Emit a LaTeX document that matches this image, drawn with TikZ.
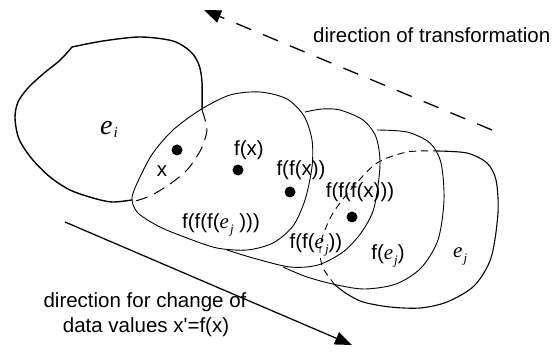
\documentclass[tikz,border=0pt]{standalone}
\usepackage{fontspec}
\setsansfont[Ligatures=TeXOff]{Liberation Sans}
\newfontfamily\tmsfont{Liberation Serif}
\usetikzlibrary{arrows.meta}

\newcommand{\ej}{{\tmsfont\itshape\fontsize{21}{21}\selectfont e\kern1pt\raisebox{-5pt}{\fontsize{13}{13}\selectfont j}}}
\newcommand{\ei}{{\tmsfont\itshape\fontsize{28}{28}\selectfont e\kern1pt\raisebox{-3pt}{\fontsize{15}{15}\selectfont i}}}

\begin{document}
\begin{tikzpicture}[
  x=1pt, y=-1pt,
  lbl/.style={font=\sffamily\fontsize{20.5}{24}\selectfont, inner sep=0pt, anchor=base},
  blob/.style={line width=0.9pt},
  outer/.style={line width=1.4pt},
  jline/.style={line width=1.1pt},
  hidden/.style={line width=1pt, dash pattern=on 12pt off 7pt},
  hiddenj/.style={line width=0.9pt, dash pattern=on 7pt off 5pt},
  dot/.style={circle, fill=black, inner sep=0pt, minimum size=11pt},
  dirarrow/.style={line width=1.3pt, -{Triangle[length=17pt,width=13pt]}}
]
\useasboundingbox (0,0) rectangle (560,352);

% --- e_i ---
\draw[outer] plot[smooth] coordinates {(202,110) (202,82) (199,65) (191,52) (173,41) (140,37) (103,41) (72,47)}
  -- plot[smooth] coordinates {(72,47) (66,54) (58,62) (43,74) (28,88) (18,102) (15,118) (19,139) (32,159) (50,177) (70,190) (93,198) (112,202) (132,200)};
\draw[hidden] plot[smooth] coordinates {(202,110) (207,128) (204,142) (199,153) (187,170) (170,184) (150,196) (132,202)};

% --- e_j and its images ---
\draw[jline] plot[smooth] coordinates {(437,151) (467,153) (487,163) (496,180) (498,213) (491,258) (474,286) (447,302) (420,308) (390,307) (363,302) (347,294) (335,285)};
\draw[hiddenj] plot[smooth] coordinates {(335,285) (323,268) (320,253) (322,238) (333,213) (353,187) (377,163) (407,152) (437,151)};
\draw[blob] plot[smooth] coordinates {(377,130) (407,132) (430,143) (441,163) (444,200) (438,240) (421,268) (396,284) (365,289) (337,285) (307,277) (283,267)};
\draw[blob] plot[smooth] coordinates {(305,112) (322,109) (340,110) (363,120) (376,137) (380,165) (374,208) (361,233) (343,252) (318,265) (290,267) (253,258) (227,250)};
\draw[blob] plot[smooth cycle] coordinates {(132,198) (140,177) (153,153) (173,130) (200,110) (230,95) (260,92) (287,99) (304,116) (312,140) (312,167) (305,200) (293,226) (273,243) (247,250) (217,248) (187,238) (160,227) (138,213)};

% --- points ---
\node[dot] (xdot) at (177,150) {};
\node[dot] (fdot) at (238,170) {};
\node[dot] (ffdot) at (290,192) {};
\node[dot] (fffdot) at (352,217) {};

% --- labels ---
\node[lbl, anchor=base west] (eilbl) at (100,135) {\ei};
\node[lbl] (xlbl) at (162,177) {x};
\node[lbl] (flbl) at (249,156) {f(x)};
\node[lbl] (fflbl) at (301,176) {f(f(x))};
\node[lbl] (ffflbl) at (360,198) {f(f(f(x)))};
\node[lbl] (fffelbl) at (221,229) {f(f(f(\ej\ )))};
\node[lbl] (ffelbl) at (316,249) {f(f(\ej))};
\node[lbl] (felbl) at (388,260) {f(\ej)};
\node[lbl, anchor=base west] (ejlbl) at (453,258) {\ej};

% --- directions ---
\coordinate (trstart) at (492,130);
\coordinate (trend) at (204,10);
\draw[dirarrow, dash pattern=on 16pt off 13pt] (trstart) -- (trend);
\node[lbl, anchor=base west] (trlbl) at (313,43) {direction of transformation};

\coordinate (chstart) at (65,222);
\coordinate (chend) at (352,345);
\draw[dirarrow] (chstart) -- (chend);
\node[lbl] (chlbl1) at (145,308) {direction for change of};
\node[lbl] (chlbl2) at (146,333) {data values x'=f(x)};
\end{tikzpicture}
\end{document}
